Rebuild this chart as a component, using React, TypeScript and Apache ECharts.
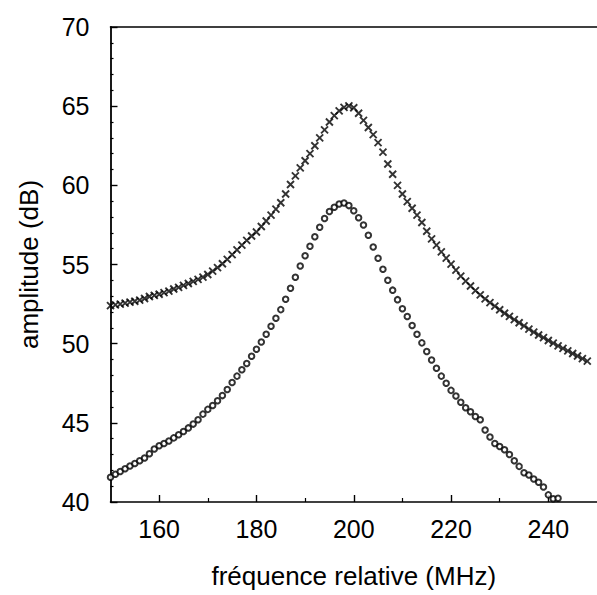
import React, { useEffect, useRef } from "react";
import * as echarts from "echarts";

const freqCross: number[] = [];
for (let f = 150; f <= 248; f++) freqCross.push(f);
const ampCross = [
  52.40, 52.45, 52.50, 52.56, 52.62, 52.68, 52.75, 52.85, 52.98, 53.05,
  53.12, 53.22, 53.32, 53.45, 53.56, 53.68, 53.80, 53.93, 54.06, 54.20,
  54.37, 54.58, 54.80, 55.05, 55.32, 55.62, 55.92, 56.22, 56.52, 56.80,
  57.05, 57.40, 57.75, 58.12, 58.50, 58.90, 59.45, 60.05, 60.60, 61.10,
  61.55, 62.00, 62.50, 63.00, 63.50, 64.00, 64.40, 64.70, 64.92, 65.02,
  64.90, 64.55, 64.10, 63.65, 63.20, 62.70, 62.10, 61.35, 60.70, 60.00,
  59.45, 58.97, 58.55, 58.12, 57.65, 57.10, 56.62, 56.22, 55.80, 55.40,
  55.02, 54.64, 54.27, 53.95, 53.64, 53.35, 53.08, 52.83, 52.59, 52.37,
  52.14, 51.92, 51.72, 51.52, 51.32, 51.12, 50.92, 50.73, 50.55, 50.38,
  50.20, 50.03, 49.86, 49.70, 49.54, 49.38, 49.22, 49.06, 48.90,
];

const freqCircle: number[] = [];
for (let f = 150; f <= 242; f++) freqCircle.push(f);
const ampCircle = [
  41.56, 41.75, 41.93, 42.10, 42.27, 42.43, 42.60, 42.78, 43.05, 43.35,
  43.55, 43.70, 43.85, 44.05, 44.25, 44.45, 44.68, 44.92, 45.20, 45.55,
  45.85, 46.10, 46.40, 46.72, 47.10, 47.55, 47.95, 48.35, 48.75, 49.20,
  49.65, 50.10, 50.60, 51.10, 51.60, 52.15, 52.80, 53.50, 54.20, 54.90,
  55.55, 56.15, 56.75, 57.35, 57.90, 58.35, 58.62, 58.82, 58.88, 58.72,
  58.40, 57.95, 57.50, 56.85, 56.10, 55.40, 54.70, 54.00, 53.38, 52.78,
  52.20, 51.72, 51.15, 50.60, 50.05, 49.50, 48.97, 48.45, 47.95, 47.50,
  47.05, 46.70, 46.30, 45.95, 45.70, 45.40, 45.20, 44.55, 44.10, 43.70,
  43.50, 43.30, 43.00, 42.60, 42.25, 41.85, 41.70, 41.45, 41.25, 40.95,
  40.45, 40.20, 40.24,
];

const xMajorTicks = [160, 180, 200, 220, 240];
const xMinorTicks = [170, 190, 210, 230];
const xTitle = "fréquence relative (MHz)";
const yTitle = "amplitude (dB)";

const FONT = "Liberation Sans, Arial, Helvetica, sans-serif";

export default function App() {
  const ref = useRef<HTMLDivElement>(null);
  useEffect(() => {
    document.body.style.margin = "0";
    const chart = echarts.init(ref.current!, null, { renderer: "svg" });
    chart.setOption({
      animation: false,
      backgroundColor: "#fff",
      grid: { left: 110.5, top: 27, bottom: 93, right: -9 },
      xAxis: [
        {
          type: "value",
          min: 150,
          max: 250,
          position: "bottom",
          name: xTitle,
          nameLocation: "middle",
          nameGap: 61,
          nameTextStyle: { fontSize: 26, color: "#000", fontFamily: FONT },
          axisLine: { show: true, lineStyle: { color: "#000", width: 1.6 } },
          axisTick: {
            show: true,
            inside: true,
            length: 7,
            customValues: xMajorTicks,
            lineStyle: { color: "#000", width: 1.4 },
          },
          axisLabel: {
            show: true,
            customValues: xMajorTicks,
            fontSize: 25,
            color: "#000",
            fontFamily: FONT,
            margin: 14,
          },
          splitLine: { show: false },
        },
        {
          type: "value",
          min: 150,
          max: 250,
          position: "bottom",
          axisLine: { show: false },
          axisTick: {
            show: true,
            inside: true,
            length: 4,
            customValues: xMinorTicks,
            lineStyle: { color: "#000", width: 1.2 },
          },
          axisLabel: { show: false },
          splitLine: { show: false },
        },
        {
          type: "value",
          min: 150,
          max: 250,
          position: "top",
          axisLine: { show: true, lineStyle: { color: "#000", width: 1.6 } },
          axisTick: { show: false },
          axisLabel: { show: false },
          splitLine: { show: false },
        },
      ],
      yAxis: {
        type: "value",
        min: 40,
        max: 70,
        interval: 5,
        name: yTitle,
        nameLocation: "middle",
        nameGap: 69,
        nameTextStyle: { fontSize: 26, color: "#000", fontFamily: FONT },
        axisLine: { show: true, lineStyle: { color: "#000", width: 1.8 } },
        axisTick: { show: true, inside: true, length: 7, lineStyle: { color: "#000", width: 1.4 } },
        minorTick: { show: true, splitNumber: 5, length: 3, lineStyle: { color: "#000", width: 1.2 } },
        axisLabel: { fontSize: 25, color: "#000", fontFamily: FONT, margin: 21 },
        splitLine: { show: false },
        minorSplitLine: { show: false },
      },
      series: [
        {
          type: "scatter",
          xAxisIndex: 0,
          data: freqCross.map((f, i) => [f, ampCross[i]]),
          symbol: "path://M0,0L10,10M10,0L0,10",
          symbolSize: 7,
          itemStyle: { color: "#000", borderColor: "#000", borderWidth: 1.9 },
        },
        {
          type: "scatter",
          xAxisIndex: 0,
          data: freqCircle.map((f, i) => [f, ampCircle[i]]),
          symbol: "emptyCircle",
          symbolSize: 5.5,
          itemStyle: { color: "#000", borderColor: "#000", borderWidth: 1.5 },
        },
      ],
    });
    return () => chart.dispose();
  }, []);
  return <div ref={ref} style={{ width: 597, height: 595 }} />;
}
